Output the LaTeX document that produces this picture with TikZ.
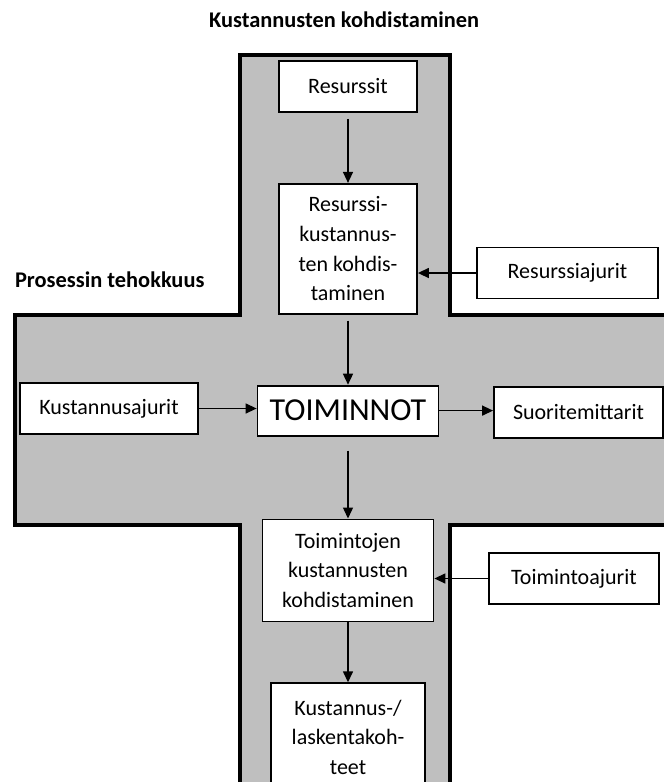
\documentclass[tikz,border=0pt]{standalone}
\usepackage{fontspec}
\setmainfont{Carlito}
\usetikzlibrary{arrows.meta,positioning}
\definecolor{crossgray}{RGB}{191,191,191}

\begin{document}
\begin{tikzpicture}[x=0.5pt,y=-0.5pt,
      font=\fontsize{11}{14.8}\selectfont,
      box/.style={draw=black,line width=0.9pt,fill=white,align=center,inner sep=2pt},
      drv/.style={box,minimum height=25.5pt},
      ar/.style={-{Triangle[length=5.5pt,width=5pt]},line width=0.7pt},
      heading/.style={font=\fontsize{11.2}{13}\selectfont\bfseries}]
      \useasboundingbox (0,0) rectangle (664,782);
      \clip (0,0) rectangle (664,782);
      % the cross
      \draw[line width=1.6pt,fill=crossgray] (240,55) -- (450,55) -- (450,315) -- (700,315) -- (700,525)
        -- (450,525) -- (450,830) -- (240,830) -- (240,525) -- (15,525) -- (15,315) -- (240,315) -- cycle;
      \node[heading] (title) at (344,20) {Kustannusten kohdistaminen};
      \node[heading,anchor=west] (eff) at (8,280) {Prosessin tehokkuus};
      % main column
      \node[box,minimum width=69pt,minimum height=25.5pt] (res) at (348,86.5) {Resurssit};
      \node[box,minimum width=69pt,minimum height=65pt,below=35pt of res] (resalloc) {Resurssi-\\kustannus-\\ten kohdis-\\taminen};
      \node[box,minimum width=90.5pt,minimum height=25pt,below=35pt of resalloc,font=\fontsize{16}{18}\selectfont] (act) {TOIMINNOT};
      \node[box,minimum width=85.5pt,minimum height=51pt,below=41pt of act] (actalloc) {Toimintojen\\kustannusten\\kohdistaminen};
      \node[box,minimum width=77pt,minimum height=54pt,below=30pt of actalloc] (obj) {Kustannus-/\\laskentakoh-\\teet};
      % drivers and measures
      \node[drv,minimum width=90.5pt] (resdrv) at (567.5,273) {Resurssiajurit};
      \node[drv,minimum width=89pt] (costdrv) at (109,408.5) {Kustannusajurit};
      \node[drv,minimum width=84.5pt] (perf) at (578.5,412.5) {Suoritemittarit};
      \node[drv,minimum width=85pt] (actdrv) at (574,578.5) {Toimintoajurit};
      \draw[ar,shorten <=3pt] (res.south) -- (res.south |- resalloc.north);
      \draw[ar,shorten <=3pt] (resalloc.south) -- (resalloc.south |- act.north);
      \draw[ar,shorten <=7pt] (act.south) -- (act.south |- actalloc.north);
      \draw[ar] (actalloc.south) -- (actalloc.south |- obj.north);
      \draw[ar] (resdrv.west) -- (resdrv.west -| resalloc.east);
      \draw[ar] (costdrv.east) -- (costdrv.east -| act.west);
      \draw[ar] (act.east) -- (act.east -| perf.west);
      \draw[ar] (actdrv.west) -- (actdrv.west -| actalloc.east);
    \end{tikzpicture}
\end{document}
